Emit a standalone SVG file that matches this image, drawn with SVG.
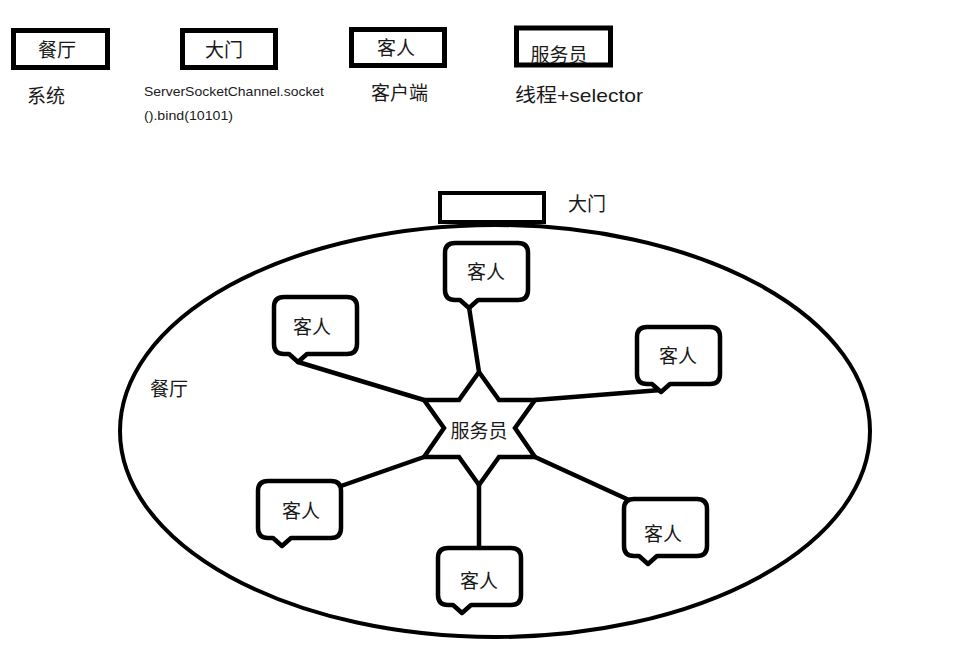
<svg xmlns="http://www.w3.org/2000/svg" xmlns:xlink="http://www.w3.org/1999/xlink" width="956" height="660" viewBox="0 0 956 660">
<style>
.box{fill:#fff;stroke:#000;stroke-width:5}
.t{font-family:"Noto Sans CJK SC","Liberation Sans",sans-serif;font-size:19px;fill:#1a1a1a}
.c{text-anchor:middle}
.lat{font-family:"Liberation Sans","Noto Sans CJK SC",sans-serif;fill:#1a1a1a}
.bub{fill:#fff;stroke:#000;stroke-width:4.5;stroke-linejoin:round}
.ln{stroke:#000;stroke-width:4.5;stroke-linecap:round;fill:none}
</style>
<defs>
<path id="bubble" d="M10,0 H73 Q83,0 83,10 V47 Q83,57 73,57 H33 L24,65 L15,57 H10 Q0,57 0,47 V10 Q0,0 10,0 Z"/>
</defs>
<rect width="956" height="660" fill="#fff"/>

<g id="legend">
<g id="legend-restaurant"><rect class="box" x="13.5" y="30.5" width="94" height="37"/><text class="t c" x="57" y="57">餐厅</text><text class="t" x="27" y="103">系统</text></g>
<g id="legend-gate"><rect class="box" x="182.5" y="30.5" width="93" height="37"/><text class="t c" x="224" y="57">大门</text>
<text class="lat" x="144" y="96" font-size="13.5" textLength="180" lengthAdjust="spacingAndGlyphs">ServerSocketChannel.socket</text>
<text class="lat" x="144" y="120" font-size="13.5" textLength="89" lengthAdjust="spacingAndGlyphs">().bind(10101)</text></g>
<g id="legend-guest"><rect class="box" x="351.5" y="29.5" width="93" height="36"/><text class="t c" x="396" y="55">客人</text><text class="t" x="371" y="100">客户端</text></g>
<g id="legend-waiter"><rect class="box" x="516.5" y="28" width="94" height="37"/><text class="t c" x="559" y="62">服务员</text><text class="t" x="515" y="102" textLength="128" lengthAdjust="spacingAndGlyphs">线程<tspan class="lat">+selector</tspan></text></g>
</g>

<g id="restaurant">
<ellipse cx="495" cy="431" rx="375" ry="206" fill="none" stroke="#000" stroke-width="4"/>
<text class="t" x="150" y="396">餐厅</text>
</g>

<g id="gate">
<rect x="440" y="193" width="104" height="29" fill="#fff" stroke="#000" stroke-width="4"/>
<text class="t" x="568" y="211">大门</text>
</g>

<g id="connectors">
<line class="ln" x1="469" y1="307" x2="479" y2="372"/>
<line class="ln" x1="298" y1="362" x2="424" y2="400"/>
<line class="ln" x1="661" y1="390" x2="535" y2="400"/>
<line class="ln" x1="341" y1="486" x2="424" y2="457"/>
<line class="ln" x1="479" y1="485" x2="479" y2="548"/>
<line class="ln" x1="535" y1="457" x2="629" y2="500"/>
</g>

<g id="waiter">
<polygon points="479,372 499,400 535,400 515,428 535,457 499,457 479,485 459,457 424,457 444,428 424,400 459,400" fill="#fff" stroke="#000" stroke-width="4.5" stroke-linejoin="miter"/>
<text class="t c" x="479" y="438">服务员</text>
</g>

<g id="guest1"><use href="#bubble" xlink:href="#bubble" class="bub" x="445" y="243"/><text class="t c" x="486" y="279">客人</text></g>
<g id="guest2"><use href="#bubble" xlink:href="#bubble" class="bub" x="274" y="297"/><text class="t c" x="312" y="334">客人</text></g>
<g id="guest3"><use href="#bubble" xlink:href="#bubble" class="bub" x="637" y="327"/><text class="t c" x="678" y="363">客人</text></g>
<g id="guest4"><use href="#bubble" xlink:href="#bubble" class="bub" x="258" y="481"/><text class="t c" x="301" y="518">客人</text></g>
<g id="guest5"><use href="#bubble" xlink:href="#bubble" class="bub" x="438" y="548"/><text class="t c" x="479" y="588">客人</text></g>
<g id="guest6"><use href="#bubble" xlink:href="#bubble" class="bub" x="624" y="499"/><text class="t c" x="663" y="541">客人</text></g>
</svg>
